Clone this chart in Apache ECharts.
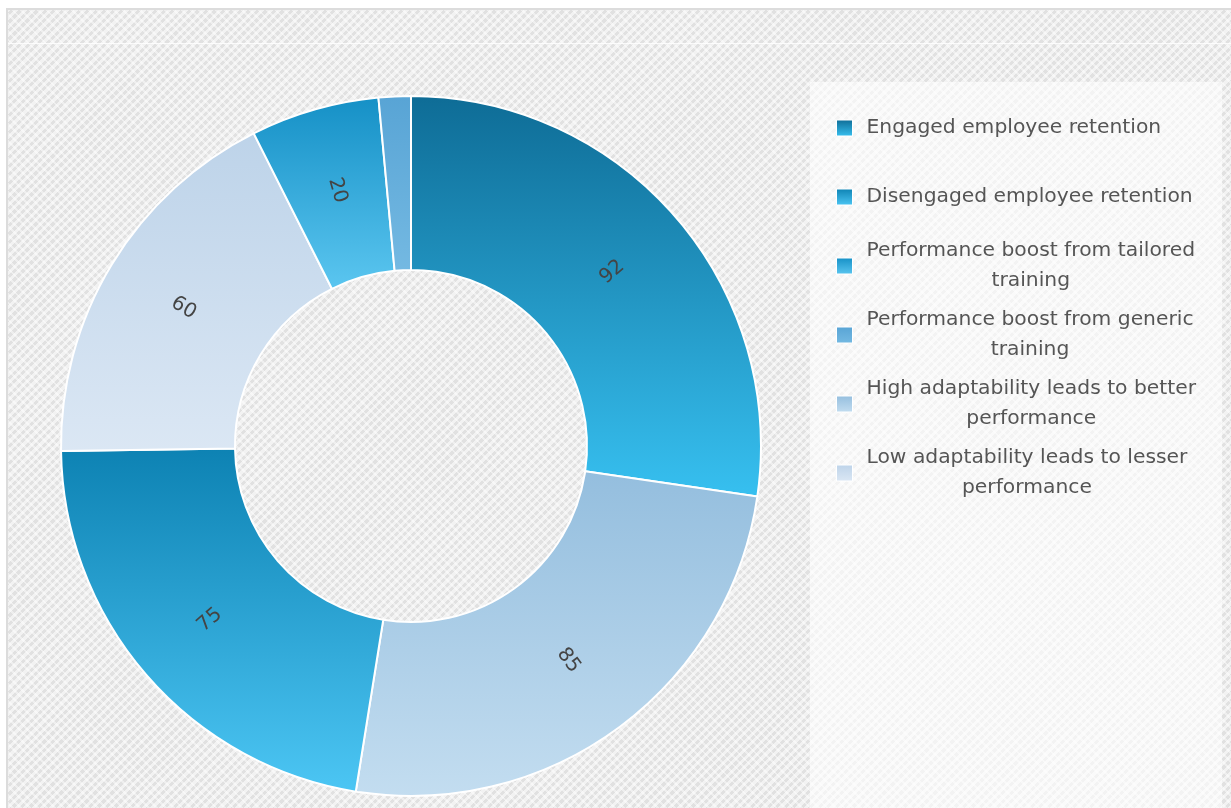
<!DOCTYPE html>
<html>
<head>
<meta charset="utf-8">
<script src="https://cdn.jsdelivr.net/npm/echarts@6/dist/echarts.min.js"></script>
<style>
  html, body { margin: 0; padding: 0; width: 1231px; height: 808px; overflow: hidden; background: #ffffff; }
  #frame {
    position: absolute; left: 6px; top: 8px; width: 1240px; height: 820px;
    border: 2px solid #dcdcdc;
    background:
      repeating-linear-gradient(45deg, rgba(255,255,255,0.45) 0 2px, rgba(255,255,255,0) 2px 6px),
      repeating-linear-gradient(-45deg, #e1e1e1 0 3px, #f2f2f2 3px 6px);
  }
  #hline { position: absolute; left: 8px; top: 43px; width: 1230px; height: 1px; background: rgba(255,255,255,0.8); }
  #legendBg { position: absolute; left: 810px; top: 82px; width: 412px; height: 740px; background: rgba(255,255,255,0.6); }
  #chart { position: absolute; left: 0; top: 0; width: 1231px; height: 808px; }
</style>
</head>
<body>
<div id="frame"></div>
<div id="hline"></div>
<div id="legendBg"></div>
<div id="chart"></div>
<script>
// Legend order (categories)
const categories = [
  'Engaged employee retention',
  'Disengaged employee retention',
  'Performance boost from tailored training',
  'Performance boost from generic training',
  'High adaptability leads to better performance',
  'Low adaptability leads to lesser performance'
];
const values = [92, 75, 20, 5, 85, 60];
// Slice gradient colours (top -> bottom), same order as categories
const colorTop = ['#0e6c96', '#0d82b3', '#1590c6', '#58a4d5', '#94bede', '#bdd3e9'];
const colorBottom = ['#37c0f0', '#4cc6f4', '#5bc6f0', '#74b9e2', '#c3ddf0', '#dbe7f4'];

// Pie is drawn sorted descending
const pieData = categories.map((name, i) => ({
  name: name,
  value: values[i],
  itemStyle: {
    color: new echarts.graphic.LinearGradient(0, 0, 0, 1, [
      { offset: 0, color: colorTop[i] },
      { offset: 1, color: colorBottom[i] }
    ])
  }
})).sort((a, b) => b.value - a.value);

function isLong(name) { return name.length > 32; }
function wrapName(name) {
  if (isLong(name)) {
    const k = name.lastIndexOf(' ');
    return '{c|' + name.slice(0, k) + '}\n{c|' + name.slice(k + 1) + '}';
  }
  return '{c|' + name + '}';
}

const FONT = '"DejaVu Sans", sans-serif';
const FS = 20.3;
const legendData = categories.map(name => ({
  name: name,
  textStyle: isLong(name) ? { padding: [0, 0, 0, 9] } : { padding: [15, 0, 15, 9] }
}));

const chart = echarts.init(document.getElementById('chart'), null, { renderer: 'canvas' });
chart.setOption({
  backgroundColor: 'transparent',
  animation: false,
  legend: {
    orient: 'vertical',
    left: 831,
    top: 93,
    itemGap: 9,
    itemWidth: 16,
    itemHeight: 16,
    icon: 'rect',
    data: legendData,
    formatter: wrapName,
    itemStyle: { borderColor: '#ffffff', borderWidth: 1 },
    textStyle: {
      color: '#555555',
      fontFamily: FONT,
      fontSize: FS,
      lineHeight: 30,
      rich: {
        c: { align: 'center', lineHeight: 30, fontSize: FS, color: '#555555', fontFamily: FONT }
      }
    }
  },
  series: [{
    type: 'pie',
    center: [411, 446],
    radius: [176, 350],
    startAngle: 90,
    clockwise: true,
    minShowLabelAngle: 10,
    data: pieData,
    itemStyle: { borderColor: '#ffffff', borderWidth: 2 },
    label: {
      show: true,
      position: 'inside',
      rotate: 'radial',
      formatter: '{c}',
      color: '#444444',
      fontSize: 20,
      fontFamily: FONT
    },
    labelLine: { show: false },
    emphasis: { disabled: true }
  }]
});
</script>
</body>
</html>
